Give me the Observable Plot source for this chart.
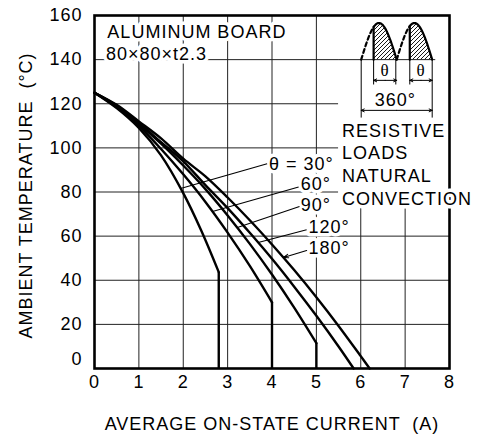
<!DOCTYPE html>
<html><head><meta charset="utf-8">
<script src="https://cdn.jsdelivr.net/npm/d3@7"></script>
<script src="https://cdn.jsdelivr.net/npm/@observablehq/plot@0.6"></script>
<style>
html,body{margin:0;padding:0;background:#fff;}
</style></head>
<body><div id="chart"></div>
<script>
// ---- axes ----
const xTicks = [0,1,2,3,4,5,6,7,8];
const yTicks = [20,40,60,80,100,120,140,160];
const yZeroTick = [0];
const xTitle = "AVERAGE ON-STATE CURRENT  (A)";
const yTitle = "AMBIENT TEMPERATURE  (°C)";

// ---- series (conduction angle θ) ----
const seriesNames = ["30°","60°","90°","120°","180°"];
const current30 = [0,0.5,1,1.5,2,2.4,2.8];
const temp30    = [125,118,109,96.6,79.5,62.8,43.7];
const current60 = [0,0.5,1,1.5,2,2.5,3,3.5,4];
const temp60    = [125,118.5,110,99.5,88,75.5,61.6,46.5,30];
const current90 = [0,0.5,1,1.5,2,2.5,3,3.5,4,4.5,5];
const temp90    = [125,118.9,110.8,101.9,92,81.3,69.4,56.5,42.6,27.6,11.5];
const current120 = [0,0.5,1,1.5,2,2.5,3,3.5,4,4.5,5,5.5,5.84];
const temp120    = [125,119.2,111.4,102.6,93.9,83.1,72.7,61.5,49.7,37.1,23.9,10,0];
const current180 = [0,0.5,1,1.5,2,2.5,3,3.5,4,4.5,5,5.5,6,6.2];
const temp180    = [125,119.5,112,104.3,95.1,87.1,77.5,67.2,56.2,44.6,32.3,19.3,5.6,0];
// vertical cut-off at max current (30°, 60°, 90°)
const cutoffCurrent = [2.8,4.0,5.0];
const cutoffTemp    = [43.7,30,11.5];

// ---- annotations ----
const curveLabels = ["θ = 30°","60°","90°","120°","180°"];
const curveLabelX = [3.93,4.65,4.65,4.82,4.82];
const curveLabelY = [92.7,83.6,74.2,63.9,54.6];
const leaderX1 = [3.89,4.6,4.62,4.78,4.78];
const leaderY1 = [92.8,82.3,73.4,62.9,53.5];
const leaderX2 = [1.94,2.66,3.22,3.69,4.26];
const leaderY2 = [81.6,71.2,63.9,57.1,50.3];
const boardText = ["ALUMINUM BOARD","80×80×t2.3"];
const boardTextX = [0.29,0.26];
const boardTextY = [152.4,142.5];
const condText = ["RESISTIVE","LOADS","NATURAL","CONVECTION"];
const condTextX = [5.58,5.58,5.58,5.58];
const condTextY = [107.4,97.5,87.2,76.8];

// ---- waveform icon (in chart units) ----
const iconStart = [6.01,6.81];
const iconEnd   = [6.81,7.61];
const iconFire  = [6.29,7.105];
const iconBaseY = [140];
const iconPeakY = [156.6];
const iconPanelX = [5.5,8];
const iconPanelY = [73,160];

// ---- build tables ----
const curveSets = [[current30,temp30],[current60,temp60],[current90,temp90],[current120,temp120],[current180,temp180]];
const curveRows = curveSets.flatMap(([xs,ys],k)=>xs.map((x,i)=>({series:seriesNames[k],current:x,temp:ys[i]})));
const cutRows = cutoffCurrent.map((x,i)=>({x,y1:cutoffTemp[i],y2:0}));

const base = iconBaseY[0], amp = iconPeakY[0]-iconBaseY[0];
function sinePts(x0,x1,a,b){const n=24,pts=[];for(let j=0;j<=n;j++){const x=a+(b-a)*j/n;pts.push({x,y:base+amp*Math.sin(Math.PI*(x-x0)/(x1-x0))});}return pts;}
const dashRows=[], solidRows=[], hatchRows=[];
iconStart.forEach((x0,k)=>{
  const x1=iconEnd[k], f=iconFire[k];
  sinePts(x0,x1,x0,f).forEach(p=>dashRows.push({...p,k}));
  const s=sinePts(x0,x1,f,x1);
  solidRows.push({x:f,y:base,k}); s.forEach(p=>solidRows.push({...p,k}));
  s.forEach(p=>hatchRows.push({...p,k}));
});
const thetaArrowY = 130.6, dimY = 117;
const dimArrows = [];
iconFire.forEach((f,k)=>{const m=(f+iconEnd[k])/2;dimArrows.push({x1:m,x2:f,y:thetaArrowY},{x1:m,x2:iconEnd[k],y:thetaArrowY});});
const mid360=(iconStart[0]+iconEnd[1])/2;
dimArrows.push({x1:mid360,x2:iconStart[0],y:dimY},{x1:mid360,x2:iconEnd[1],y:dimY});
const extLines = [];
iconFire.forEach((f,k)=>{extLines.push({x:f,y1:base,y2:128.5});});
extLines.push({x:iconEnd[0]-0.02,y1:base,y2:128.5});
extLines.push({x:iconStart[0],y1:base,y2:113.5},{x:iconEnd[1],y1:base,y2:113.5});

const FONT = "'Liberation Sans', Arial, Helvetica, sans-serif";
const FS = 18;
const halo = {stroke:"white", strokeWidth:7, fill:"black", fontSize:FS, fontFamily:FONT};

const plot = Plot.plot({
  width: 478, height: 443,
  marginLeft: 94, marginRight: 29, marginTop: 15, marginBottom: 75,
  x: {domain:[0,8]},
  y: {domain:[0,160]},
  style: {fontFamily: FONT, fontSize: FS+"px", background:"white", color:"black", letterSpacing:"1px"},
  marks: [
    Plot.gridX(xTicks, {stroke:"#222", strokeOpacity:1, strokeWidth:1}),
    Plot.gridY(yTicks, {stroke:"#222", strokeOpacity:1, strokeWidth:1}),
    Plot.rect([0], {x1:()=>iconPanelX[0], x2:()=>iconPanelX[1], y1:()=>iconPanelY[0], y2:()=>iconPanelY[1], fill:"white"}),
    Plot.frame({stroke:"black", strokeWidth:2.6}),
    Plot.axisX(xTicks, {tickSize:0, tickPadding:7, fontSize:FS, label:null}),
    Plot.axisY(yTicks, {tickSize:0, tickPadding:12, fontSize:FS, label:null}),
    Plot.axisY(yZeroTick, {tickSize:0, tickPadding:12, fontSize:FS, label:null, dy:-9}),
    Plot.text([yTitle], {frameAnchor:"left", textAnchor:"middle", dx:-68, dy:3.5, rotate:-90, fontSize:FS}),
    Plot.text([xTitle], {frameAnchor:"bottom", textAnchor:"middle", dy:61.5, fontSize:FS}),
    // curves
    Plot.line(curveRows, {x:"current", y:"temp", z:"series", curve:"catmull-rom", stroke:"black", strokeWidth:2.4}),
    Plot.ruleX(cutRows, {x:"x", y1:"y1", y2:"y2", stroke:"black", strokeWidth:2.4}),
    // icon
    Plot.ruleY(iconBaseY, {x1:5.5, x2:7.69, stroke:"#222", strokeWidth:1}),
    Plot.areaY(hatchRows, {x:"x", y1:base, y2:"y", z:"k", fill:"url(#hatch)", curve:"linear"}),
    Plot.line(solidRows, {x:"x", y:"y", z:"k", stroke:"black", strokeWidth:2.2}),
    Plot.line(dashRows, {x:"x", y:"y", z:"k", stroke:"black", strokeWidth:2.2, strokeDasharray:"4,3"}),
    Plot.ruleX(extLines, {x:"x", y1:"y1", y2:"y2", stroke:"black", strokeWidth:1}),
    Plot.arrow(dimArrows, {x1:"x1", x2:"x2", y1:"y", y2:"y", stroke:"black", strokeWidth:1, headLength:5, headAngle:50}),
    Plot.text(["θ","θ"], {x:(d,i)=>(iconFire[i]+iconEnd[i])/2, y:135.2, fontSize:17, fontFamily:"'Liberation Serif', serif"}),
    Plot.text(["360°"], {x:mid360-0.03, y:121.5, fontSize:FS, stroke:"white", strokeWidth:3, fill:"black"}),
    // text blocks
    Plot.text(boardText, {x:(d,i)=>boardTextX[i], y:(d,i)=>boardTextY[i], textAnchor:"start", ...halo}),
    Plot.text(condText, {x:(d,i)=>condTextX[i], y:(d,i)=>condTextY[i], textAnchor:"start", ...halo}),
    Plot.text(curveLabels, {x:(d,i)=>curveLabelX[i], y:(d,i)=>curveLabelY[i], textAnchor:"start", ...halo}),
    // leaders
    Plot.link([0,1,2,3], {x1:i=>leaderX1[i], y1:i=>leaderY1[i], x2:i=>leaderX2[i], y2:i=>leaderY2[i], stroke:"black", strokeWidth:1.1}),
    Plot.arrow([4], {x1:i=>leaderX1[i], y1:i=>leaderY1[i], x2:i=>leaderX2[i], y2:i=>leaderY2[i], stroke:"black", strokeWidth:1.1, headLength:7, headAngle:40})
  ]
});

const svg = d3.select(plot);
const defs = svg.insert("defs", ":first-child");
defs.append("pattern").attr("id","hatch").attr("patternUnits","userSpaceOnUse").attr("width",4).attr("height",4)
  .append("path").attr("d","M-1,1 l2,-2 M0,4 l4,-4 M3,5 l2,-2").attr("stroke","black").attr("stroke-width",0.9);
document.getElementById("chart").appendChild(plot);
</script>
</body></html>
